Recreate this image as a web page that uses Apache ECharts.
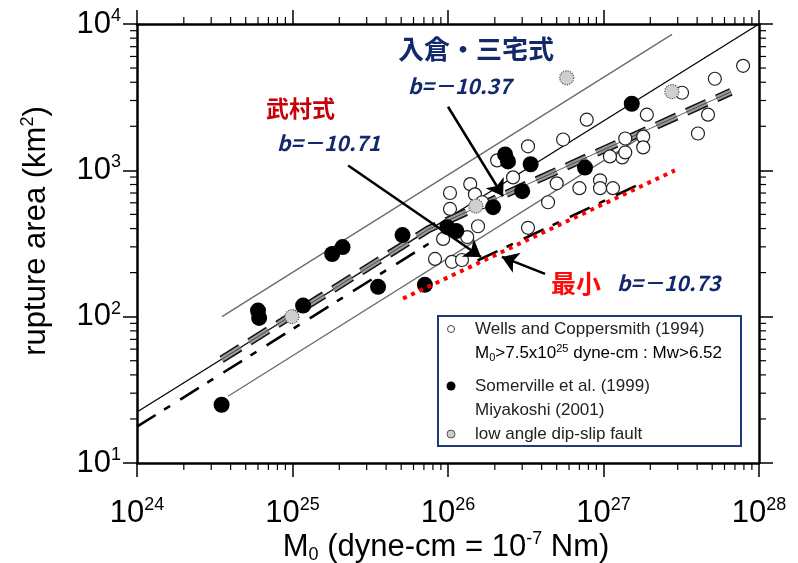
<!DOCTYPE html>
<html>
<head>
<meta charset="utf-8">
<script src="https://cdn.jsdelivr.net/npm/echarts@6/dist/echarts.min.js"></script>
<style>
  html, body { margin: 0; padding: 0; background: #fff; }
  #chart { width: 798px; height: 563px; }
</style>
</head>
<body>
<div id="chart"></div>
<script>
  // values (M0 in dyne-cm, S in km^2)
  const filledM0 = [3.5e24, 6.0e24, 6.1e24, 1.17e25, 1.8e25, 2.1e25, 3.55e25, 5.1e25, 7.1e25, 9.9e25, 1.13e26, 1.95e26, 2.33e26, 2.43e26, 3.0e26, 3.4e26, 7.6e26, 1.52e27]
  const filledS = [25, 110, 98, 119, 268, 299, 160, 361, 165, 409, 385, 560, 1285, 1150, 720, 1100, 1045, 2850]

  const grayM0 = [9.9e24, 1.51e26, 5.8e26, 2.75e27]
  const grayS = [100, 570, 4290, 3450]

  const openM0 = [7.9e27, 5.2e27, 3.2e27, 1.9e27, 4.7e27, 4.05e27, 7.8e26, 5.5e26, 3.27e26, 1.38e27,
    1.8e27, 1.8e27, 1.32e27, 1.1e27, 2.62e26, 1.39e26, 1.03e26, 5.0e26, 9.5e26, 9.5e26,
    7.0e26, 1.15e27, 4.4e26, 1.56e26, 1.03e26, 3.27e26, 2.07e26, 1.49e26, 1.66e26, 9.3e25,
    1.33e26, 8.25e25, 1.06e26, 1.23e26, 1.38e27]
  const openS = [5180, 4225, 3390, 2400, 2400, 1785, 2220, 1625, 1460, 1650,
    1700, 1435, 1225, 1245, 895, 805, 700, 815, 855, 755,
    755, 755, 605, 415, 545, 405, 1170, 685, 605, 340,
    350, 248, 237, 244, 1325]

  // scaling lines
  const solidM0 = [1e24, 1e28]
  const solidS = [22.3, 10000]
  const irikuraM0 = [3.5e24, 7.5e25, 6.6e27]
  const irikuraS = [51, 396, 3440]
  const takemuraM0 = [1e24, 7.5e25]
  const takemuraS = [17.7, 315]
  const takemura2M0 = [1.55e26, 1.85e27]
  const takemura2S = [242, 839]
  const upperM0 = [3.52e24, 2.76e27]
  const upperS = [100, 8490]
  const lowerM0 = [3.85e24, 1.85e27]
  const lowerS = [28.6, 1754]
  const minimumM0 = [5.14e25, 2.88e27]
  const minimumS = [133, 1000]

  // arrows (start, end) in data space
  const arrows = [
    [[1.0e26, 2720], [2.26e26, 665]],
    [[2.28e25, 1080], [1.63e26, 256]],
    [[4.21e26, 196], [2.22e26, 256]]
  ]

  // axis ticks
  const xDecades = [24, 25, 26, 27]
  const yDecades = [1, 2, 3]
  const minorSteps = [2, 3, 4, 5, 6, 7, 8, 9]

  const pairs = (xs, ys) => xs.map((x, i) => [x, ys[i]])
  const minorOf = decs => {
    let out = []
    decs.forEach(d => minorSteps.forEach(k => out.push(k * Math.pow(10, d))))
    return out
  }

  const FONT = 'Liberation Sans'
  const powRich = {
    b: { fontSize: 31, fontFamily: FONT, color: '#000', lineHeight: 34 },
    s: { fontSize: 18, fontFamily: FONT, color: '#000', lineHeight: 18, verticalAlign: 'top' }
  }
  const powLabel = v => '{b|10}{s|' + Math.round(Math.log10(v)) + '}'

  const axisLine = { lineStyle: { color: '#000', width: 2.5 } }
  const majorTick = { length: 14, lineStyle: { color: '#000', width: 1.5 } }

  function tickX (params, api) {
    const cs = params.coordSys
    const p = api.coord([api.value(0), 10])
    const st = { stroke: '#000', lineWidth: 1.2 }
    return {
      type: 'group',
      children: [
        { type: 'line', shape: { x1: p[0], y1: cs.y + cs.height, x2: p[0], y2: cs.y + cs.height + 7 }, style: st },
        { type: 'line', shape: { x1: p[0], y1: cs.y, x2: p[0], y2: cs.y - 7 }, style: st }
      ]
    }
  }
  function tickY (params, api) {
    const cs = params.coordSys
    const p = api.coord([1e24, api.value(1)])
    const st = { stroke: '#000', lineWidth: 1.2 }
    return {
      type: 'group',
      children: [
        { type: 'line', shape: { x1: cs.x, y1: p[1], x2: cs.x - 7, y2: p[1] }, style: st },
        { type: 'line', shape: { x1: cs.x + cs.width, y1: p[1], x2: cs.x + cs.width + 7, y2: p[1] }, style: st }
      ]
    }
  }

  const lineSeries = (xs, ys, style, z) => ({
    type: 'line',
    data: pairs(xs, ys),
    symbol: 'none',
    silent: true,
    z: z || 2,
    lineStyle: style
  })

  const chart = echarts.init(document.getElementById('chart'))
  chart.setOption({
    animation: false,
    grid: { left: 137, right: 39, top: 24, bottom: 100 },
    xAxis: [
      {
        type: 'log', logBase: 10, min: 1e24, max: 1e28,
        axisLine: axisLine, axisTick: majorTick, splitLine: { show: false },
        axisLabel: { margin: 33, formatter: powLabel, rich: powRich }
      },
      {
        type: 'log', logBase: 10, min: 1e24, max: 1e28, position: 'top',
        axisLine: axisLine, axisTick: majorTick, splitLine: { show: false },
        axisLabel: { show: false }
      }
    ],
    yAxis: [
      {
        type: 'log', logBase: 10, min: 10, max: 1e4,
        axisLine: axisLine, axisTick: majorTick, splitLine: { show: false },
        axisLabel: { margin: 16, formatter: powLabel, rich: powRich }
      },
      {
        type: 'log', logBase: 10, min: 10, max: 1e4, position: 'right',
        axisLine: axisLine, axisTick: majorTick, splitLine: { show: false },
        axisLabel: { show: false }
      }
    ],
    series: [
      { type: 'custom', renderItem: tickX, data: minorOf(xDecades).map(v => [v, 10]), clip: false, silent: true },
      { type: 'custom', renderItem: tickY, data: minorOf(yDecades).map(v => [1e24, v]), clip: false, silent: true },
      lineSeries(upperM0, upperS, { color: '#6a6a6a', width: 1.3 }),
      lineSeries(lowerM0, lowerS, { color: '#6a6a6a', width: 1.3 }),
      lineSeries(solidM0, solidS, { color: '#000', width: 1.3 }),
      lineSeries(irikuraM0, irikuraS, { color: '#111', width: 8, type: [22, 11] }, 3),
      lineSeries(irikuraM0, irikuraS, { color: '#9a9a9a', width: 5, type: [22, 11] }, 3),
      lineSeries(irikuraM0, irikuraS, { color: '#333', width: 0.8 }, 3),
      lineSeries(takemuraM0, takemuraS, { color: '#000', width: 2.6, type: [22, 10, 7, 12] }),
      lineSeries(takemura2M0, takemura2S, { color: '#000', width: 2.6, type: [22, 10, 7, 12] }),
      {
        type: 'scatter', data: pairs(openM0, openS), symbol: 'circle', symbolSize: 13, z: 4,
        itemStyle: { color: '#fff', borderColor: '#222', borderWidth: 1.2, opacity: 1 }
      },
      {
        type: 'scatter', data: pairs(grayM0, grayS), symbol: 'circle', symbolSize: 14, z: 4,
        itemStyle: { color: '#cfcfcf', borderColor: '#555', borderWidth: 1.2, borderType: 'dotted', opacity: 1 }
      },
      {
        type: 'scatter', data: pairs(filledM0, filledS), symbol: 'circle', symbolSize: 16, z: 5,
        itemStyle: { color: '#000', opacity: 1 }
      },
      lineSeries(minimumM0, minimumS, { color: '#ff0000', width: 4, type: [4, 5] }, 6),
      {
        type: 'lines', coordinateSystem: 'cartesian2d', z: 7, silent: true,
        symbol: ['none', 'arrow'], symbolSize: 16,
        lineStyle: { color: '#000', width: 2.5, opacity: 1, curveness: 0 },
        data: arrows.map(a => ({ coords: a }))
      }
    ],
    graphic: [
      // annotations
      { type: 'text', x: 398, y: 49, z: 100, style: { text: '入倉・三宅式', fill: '#13296b', fontSize: 26, fontWeight: 'bold', fontFamily: 'Noto Sans CJK JP', verticalAlign: 'middle' } },
      { type: 'text', x: 408, y: 86, z: 100, style: { text: 'b=－10.37', fill: '#13296b', fontSize: 21, fontWeight: 'bold', fontStyle: 'italic', fontFamily: 'Noto Sans CJK JP', verticalAlign: 'middle' } },
      { type: 'text', x: 266, y: 108, z: 100, style: { text: '武村式', fill: '#c8000a', fontSize: 23, fontWeight: 'bold', fontFamily: 'Noto Sans CJK JP', verticalAlign: 'middle' } },
      { type: 'text', x: 277, y: 143, z: 100, style: { text: 'b=－10.71', fill: '#13296b', fontSize: 21, fontWeight: 'bold', fontStyle: 'italic', fontFamily: 'Noto Sans CJK JP', verticalAlign: 'middle' } },
      { type: 'text', x: 551, y: 283, z: 100, style: { text: '最小', fill: '#ff0a0a', fontSize: 25, fontWeight: 'bold', fontFamily: 'Noto Sans CJK JP', verticalAlign: 'middle' } },
      { type: 'text', x: 617, y: 283, z: 100, style: { text: 'b=－10.73', fill: '#13296b', fontSize: 21, fontWeight: 'bold', fontStyle: 'italic', fontFamily: 'Noto Sans CJK JP', verticalAlign: 'middle' } },
      // axis names
      {
        type: 'text', x: 36, y: 231, rotation: Math.PI / 2, z: 100,
        style: {
          text: '{n|rupture area (km}{s|2}{n|)}', align: 'center', verticalAlign: 'middle',
          rich: { n: { fontSize: 31, fontFamily: FONT, lineHeight: 34 }, s: { fontSize: 18, fontFamily: FONT, lineHeight: 18, verticalAlign: 'top' } }
        }
      },
      {
        type: 'text', x: 446, y: 547, z: 100,
        style: {
          text: '{n|M}{d|0}{n| (dyne-cm = 10}{s|-7}{n| Nm)}', align: 'center', verticalAlign: 'middle',
          rich: {
            n: { fontSize: 31, fontFamily: FONT, lineHeight: 34 },
            s: { fontSize: 18, fontFamily: FONT, lineHeight: 18, verticalAlign: 'top' },
            d: { fontSize: 18, fontFamily: FONT, lineHeight: 18, verticalAlign: 'bottom' }
          }
        }
      },
      // legend box
      { type: 'rect', z: 90, shape: { x: 438, y: 316, width: 303, height: 130 }, style: { fill: '#fff', stroke: '#1f3b7a', lineWidth: 2 } },
      { type: 'circle', z: 91, shape: { cx: 451, cy: 329, r: 3.5 }, style: { fill: '#fff', stroke: '#444', lineWidth: 1 } },
      { type: 'circle', z: 91, shape: { cx: 451, cy: 386, r: 4.5 }, style: { fill: '#000' } },
      { type: 'circle', z: 91, shape: { cx: 451, cy: 434, r: 4 }, style: { fill: '#ccc', stroke: '#555', lineWidth: 1 } },
      { type: 'text', x: 475, y: 329, z: 91, style: { text: 'Wells and Coppersmith (1994)', fill: '#222', fontSize: 17, fontFamily: FONT, verticalAlign: 'middle' } },
      {
        type: 'text', x: 475, y: 353, z: 91,
        style: {
          text: '{n|M}{d|0}{n|>7.5x10}{s|25}{n| dyne-cm : Mw>6.52}', verticalAlign: 'middle',
          rich: {
            n: { fontSize: 17, fontFamily: FONT, color: '#222', lineHeight: 20 },
            s: { fontSize: 11, fontFamily: FONT, color: '#222', lineHeight: 11, verticalAlign: 'top' },
            d: { fontSize: 11, fontFamily: FONT, color: '#222', lineHeight: 11, verticalAlign: 'bottom' }
          }
        }
      },
      { type: 'text', x: 475, y: 386, z: 91, style: { text: 'Somerville et al. (1999)', fill: '#222', fontSize: 17, fontFamily: FONT, verticalAlign: 'middle' } },
      { type: 'text', x: 475, y: 410, z: 91, style: { text: 'Miyakoshi (2001)', fill: '#222', fontSize: 17, fontFamily: FONT, verticalAlign: 'middle' } },
      { type: 'text', x: 475, y: 434, z: 91, style: { text: 'low angle dip-slip fault', fill: '#222', fontSize: 17, fontFamily: FONT, verticalAlign: 'middle' } }
    ]
  })
</script>
</body>
</html>
